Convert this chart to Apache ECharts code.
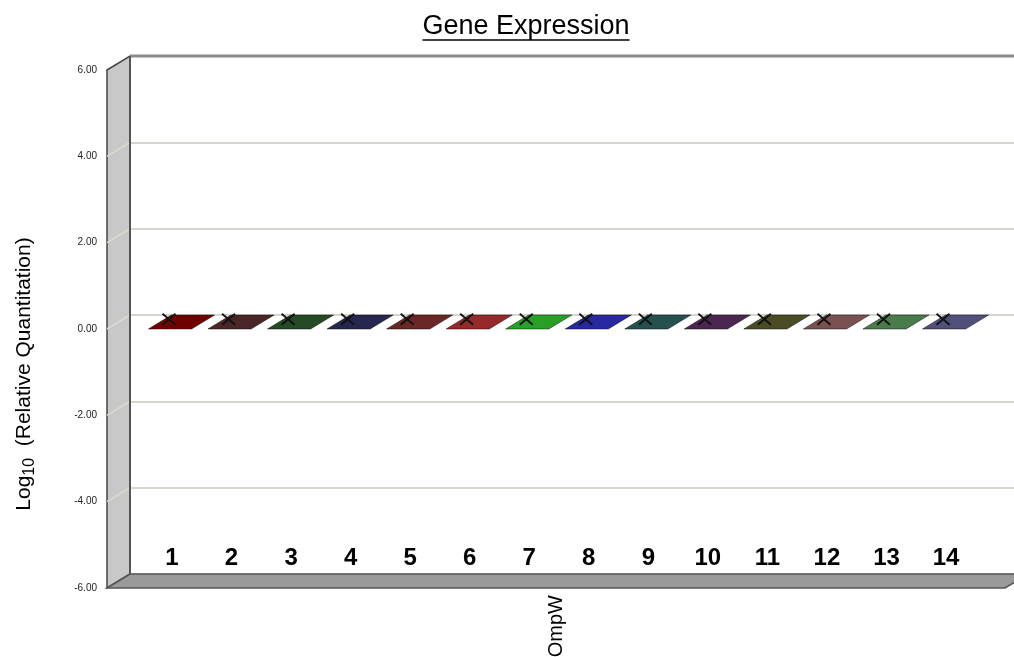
<!DOCTYPE html>
<html><head><meta charset="utf-8">
<script src="https://cdn.jsdelivr.net/npm/echarts@6/dist/echarts.min.js"></script>
<style>html,body{margin:0;padding:0;background:#fff}#c{width:1014px;height:657px}</style>
</head><body><div id="c"></div>
<script>
// ---- data ----
const chartTitle = 'Gene Expression';
const categories = ['OmpW'];
const sampleLabels = ['1','2','3','4','5','6','7','8','9','10','11','12','13','14'];
const sampleValues = [0,0,0,0,0,0,0,0,0,0,0,0,0,0];
const yTicks = [-6,-4,-2,0,2,4,6];

// ---- style ----
const sampleColors = ['#700000','#4b2626','#244b24','#26264e','#6b2626','#962a2a','#28a028',
  '#2828a0','#255050','#4b2650','#4b4b26','#7a5050','#4b7a4b','#50507a'];
const FONT = "'Liberation Sans', Arial, sans-serif";
const DEPTH = {dx: 23, dy: -14};
const FRONT = {left: 107, right: 9, top: 70, bottom: 69};
const BAR = {catGap: 0.09, gapRatio: 0.38};
const yMin = yTicks[0], yMax = yTicks[yTicks.length-1], yStep = yTicks[1]-yTicks[0];

const chart = echarts.init(document.getElementById('c'), null, {renderer: 'canvas'});

function renderDecor(params, api) {
  const cat = api.value(0);
  const c = api.coord([cat, yMax]);
  const band = api.size([1, 0])[0];
  const x0 = c[0] - band / 2, x1 = c[0] + band / 2;
  const yT = c[1];
  const yB = api.coord([cat, yMin])[1];
  const dx = DEPTH.dx, dy = DEPTH.dy;
  const children = [];
  children.push({type: 'polygon', shape: {points: [[x0, yT], [x0 + dx, yT + dy], [x0 + dx, yB + dy], [x0, yB]]},
    style: {fill: '#c8c8c8', stroke: '#444', lineWidth: 1.5}});
  yTicks.forEach(t => {
    if (t === yMin || t === yMax) return;
    const y = api.coord([cat, t])[1];
    children.push({type: 'line', shape: {x1: x0, y1: y, x2: x0 + dx, y2: y + dy},
      style: {stroke: '#dedad0', lineWidth: 1.5}});
  });
  children.push({type: 'polygon', shape: {points: [[x0, yB], [x0 + dx, yB + dy], [x1 + dx, yB + dy], [x1, yB]]},
    style: {fill: '#9a9a9a', stroke: '#555', lineWidth: 1.5}});
  children.push({type: 'line', shape: {x1: x0 + dx, y1: yT + dy, x2: x1 + dx, y2: yT + dy},
    style: {stroke: '#8c8c8c', lineWidth: 3}});
  children.push({type: 'line', shape: {x1: x0 + dx, y1: yT + dy, x2: x0 + dx, y2: yB + dy},
    style: {stroke: '#555', lineWidth: 2}});
  return {type: 'group', children};
}

function renderBar(params, api) {
  const cat = api.value(0), val = api.value(1), idx = api.value(2);
  const n = sampleValues.length;
  const pv = api.coord([cat, val]);
  const p0 = api.coord([cat, 0]);
  const yBot = api.coord([cat, yMin])[1];
  const band = api.size([1, 0])[0];
  const groupW = band * (1 - BAR.catGap);
  const w = groupW / (n + (n - 1) * BAR.gapRatio);
  const g = w * BAR.gapRatio;
  const xl = pv[0] - groupW / 2 + idx * (w + g) + 1;
  const xr = xl + w;
  const cx = (xl + xr) / 2;
  const topY = Math.min(pv[1], p0[1]), botY = Math.max(pv[1], p0[1]);
  const dx = DEPTH.dx, dy = DEPTH.dy;
  const color = sampleColors[idx];
  const edge = 'rgba(0,0,0,0.45)';
  const children = [];
  if (botY - topY > 0.5) {
    children.push({type: 'polygon', shape: {points: [[xr, topY], [xr + dx, topY + dy], [xr + dx, botY + dy], [xr, botY]]},
      style: {fill: echarts.color.lift(color, 0.3), stroke: edge, lineWidth: 1}});
    children.push({type: 'rect', shape: {x: xl, y: topY, width: w, height: botY - topY},
      style: {fill: color, stroke: edge, lineWidth: 1}});
  }
  children.push({type: 'polygon', shape: {points: [[xl, topY], [xl + dx, topY + dy], [xr + dx, topY + dy], [xr, topY]]},
    style: {fill: color, stroke: edge, lineWidth: 1}});
  const mx = cx - 1, my = pv[1] + 0.7 * dy, hx = 6.5, hy = 5.5;
  children.push({type: 'line', shape: {x1: mx - hx, y1: my - hy, x2: mx + hx, y2: my + hy}, style: {stroke: '#111', lineWidth: 1.8}});
  children.push({type: 'line', shape: {x1: mx - hx, y1: my + hy, x2: mx + hx, y2: my - hy}, style: {stroke: '#111', lineWidth: 1.8}});
  children.push({type: 'text', x: cx + 2, y: yBot - 30, style: {text: sampleLabels[idx], font: 'bold 24px ' + FONT,
    fill: '#000', align: 'center', verticalAlign: 'middle'}});
  return {type: 'group', children};
}

const TITLE_FONT = '27px ' + FONT;
const ctx = document.createElement('canvas').getContext('2d');
ctx.font = TITLE_FONT;
const titleW = ctx.measureText(chartTitle).width;
const titleX = 526, titleY = 27;

const option = {
  animation: false,
  backgroundColor: '#fff',
  graphic: [
    {type: 'text', x: titleX, y: titleY, style: {text: chartTitle, font: TITLE_FONT, fill: '#000', align: 'center', verticalAlign: 'middle'}},
    {type: 'line', shape: {x1: titleX - titleW / 2, y1: titleY + 13, x2: titleX + titleW / 2, y2: titleY + 13}, style: {stroke: '#000', lineWidth: 1.5}}
  ],
  grid: [
    {left: FRONT.left, right: FRONT.right, top: FRONT.top, bottom: FRONT.bottom, outerBoundsMode: 'none', containLabel: false},
    {left: FRONT.left + DEPTH.dx, right: 0, top: FRONT.top + DEPTH.dy, bottom: FRONT.bottom - DEPTH.dy, outerBoundsMode: 'none', containLabel: false}
  ],
  xAxis: [
    {type: 'category', gridIndex: 0, data: categories, boundaryGap: true,
      axisLine: {show: false}, axisTick: {show: false},
      axisLabel: {rotate: 90, margin: 7, fontSize: 20, fontFamily: FONT, color: '#000'}},
    {type: 'category', gridIndex: 1, data: categories, show: false}
  ],
  yAxis: [
    {type: 'value', gridIndex: 0, min: yMin, max: yMax, interval: yStep,
      axisLine: {show: false}, axisTick: {show: false}, splitLine: {show: false},
      axisLabel: {margin: 10, fontSize: 10, fontFamily: FONT, color: '#222', formatter: v => v.toFixed(2)},
      name: '{a|Log}{b|10}{a|  (Relative Quantitation)}', nameLocation: 'middle', nameGap: 69,
      nameTextStyle: {padding: [0, 90, 0, 0], rich: {a: {fontSize: 21, fontFamily: FONT, color: '#000'},
        b: {fontSize: 16, fontFamily: FONT, color: '#000', padding: [12, 0, 0, 0]}}}},
    {type: 'value', gridIndex: 1, min: yMin, max: yMax, interval: yStep,
      axisLine: {show: false}, axisTick: {show: false}, axisLabel: {show: false},
      splitLine: {show: true, lineStyle: {color: '#c8c8bc', width: 1.5}}}
  ],
  series: [
    {type: 'custom', xAxisIndex: 0, yAxisIndex: 0, z: 1, silent: true, renderItem: renderDecor,
      data: [[0, 0]]},
    {type: 'custom', xAxisIndex: 0, yAxisIndex: 0, z: 3, renderItem: renderBar,
      data: sampleValues.map((v, i) => [0, v, i])}
  ]
};
chart.setOption(option);
</script></body></html>
